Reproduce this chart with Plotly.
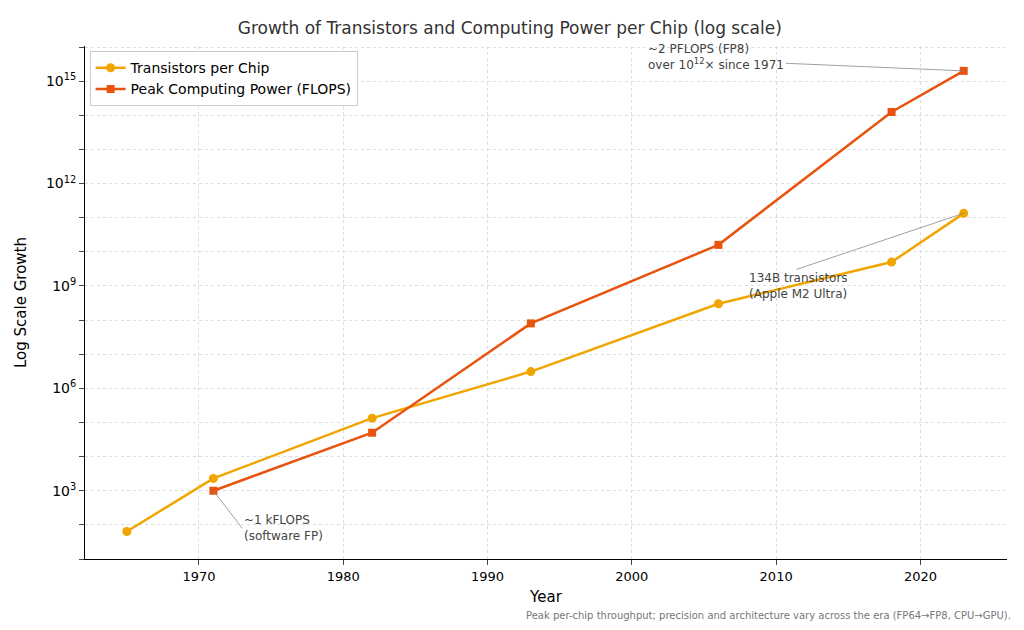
import plotly.graph_objects as go

years_t = [1965, 1971, 1982, 1993, 2006, 2018, 2023]
transistors = [64, 2300, 134000, 3.1e6, 3.0e8, 5.0e9, 1.34e11]
years_f = [1971, 1982, 1993, 2006, 2018, 2023]
flops = [1000, 5.0e4, 8.0e7, 1.6e10, 1.25e14, 2.0e15]

decades = list(range(1, 17))
tickvals = [10**d for d in decades]
ticktext = [f"10<sup>{d}</sup>" if d % 3 == 0 else "" for d in decades]

fig = go.Figure()
fig.add_trace(go.Scatter(x=years_t, y=transistors, mode="lines+markers", name="Transistors per Chip",
                         line=dict(color="#f0a500", width=2.5), marker=dict(symbol="circle", size=9)))
fig.add_trace(go.Scatter(x=years_f, y=flops, mode="lines+markers", name="Peak Computing Power (FLOPS)",
                         line=dict(color="#e8530e", width=2.5), marker=dict(symbol="square", size=8)))

ann = dict(showarrow=True, arrowhead=0, arrowwidth=0.8, arrowcolor="#888", font=dict(size=12, color="#444"),
           align="left", xanchor="left")
fig.add_annotation(x=1971, y=3, xref="x", yref="y", text="~1 kFLOPS<br>(software FP)",
                   ax=1973, ay=1.9, axref="x", ayref="y", **ann)
fig.add_annotation(x=2023, y=11.13, text="134B transistors<br>(Apple M2 Ultra)",
                   ax=2008, ay=9.0, axref="x", ayref="y", **ann)
fig.add_annotation(x=2023, y=15.3, text="~2 PFLOPS (FP8)<br>over 10<sup>12</sup>× since 1971",
                   ax=2001, ay=15.7, axref="x", ayref="y", **ann)
fig.add_annotation(x=1.007, y=-0.095, xref="paper", yref="paper", showarrow=False, xanchor="right", yanchor="top",
                   text="Peak per-chip throughput; precision and architecture vary across the era (FP64→FP8, CPU→GPU).",
                   font=dict(size=10, color="#777"))

fig.update_layout(
    width=1024, height=630, template="plotly_white",
    font=dict(family="DejaVu Sans", size=13, color="black"),
    title=dict(text="Growth of Transistors and Computing Power per Chip (log scale)", x=0.49, y=0.978,
               font=dict(size=17, color="#333")),
    margin=dict(l=67, r=25, t=38, b=79),
    legend=dict(x=0.005, y=0.99, bgcolor="white", bordercolor="#ccc", borderwidth=1, font=dict(size=14)),
    xaxis=dict(title=dict(text="Year", standoff=8, font=dict(size=15)), range=[1962.1, 2026], tickvals=[1970, 1980, 1990, 2000, 2010, 2020],
               showline=True, linecolor="black", ticks="outside", gridcolor="#ddd", griddash="dot", zeroline=False),
    yaxis=dict(title=dict(text="Log Scale Growth", font=dict(size=15)), type="log", range=[1.0, 16.03],
               tickvals=tickvals, ticktext=ticktext, showline=True, linecolor="black", ticks="outside",
               gridcolor="#ddd", griddash="dot", zeroline=False, tickfont=dict(size=14)),
)
fig.write_html("out.html")
